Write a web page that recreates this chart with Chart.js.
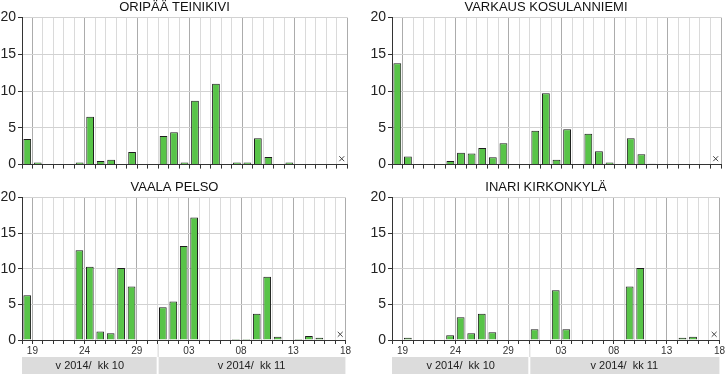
<!DOCTYPE html>
<html>
<head>
<meta charset="utf-8">
<script src="https://cdn.jsdelivr.net/npm/chart.js@4.4.1/dist/chart.umd.min.js"></script>
<style>
  html, body { margin: 0; padding: 0; background: #fff; }
  #wrap { position: relative; width: 726px; height: 375px; overflow: hidden; }
  .panel { position: absolute; }
</style>
</head>
<body>
<div id="wrap">
  <div class="panel" style="left:0;top:0"><canvas id="c1" width="352" height="175"></canvas></div>
  <div class="panel" style="left:370px;top:0"><canvas id="c2" width="356" height="175"></canvas></div>
  <div class="panel" style="left:0;top:180px"><canvas id="c3" width="352" height="195"></canvas></div>
  <div class="panel" style="left:370px;top:180px"><canvas id="c4" width="356" height="195"></canvas></div>
</div>
<script>
// days 19.10.2014 - 18.11.2014, one slot per day
const days = ['19','20','21','22','23','24','25','26','27','28','29','30','31',
              '01','02','03','04','05','06','07','08','09','10','11','12','13','14','15','16','17','18'];
const months = ['v 2014/  kk 10', 'v 2014/  kk 11'];
const monthDays = [13, 18];
const missingDays = ['18'];   // shown with an x

const oripaa  = [3.5,0.3,null,null,null,0.3,6.5,0.5,0.65,null,1.7,null,null,3.9,4.4,0.3,8.7,null,11.0,null,0.3,0.3,3.6,1.05,null,0.3,null,null,null,null,null];
const varkaus = [13.8,1.1,null,null,null,0.5,1.6,1.5,2.25,1.0,2.9,null,null,4.6,9.7,0.65,4.8,null,4.2,1.8,0.3,null,3.6,1.4,0.1,null,null,null,null,null,null];
const vaala   = [6.3,null,null,null,null,12.6,10.3,1.2,0.95,10.1,7.5,null,null,4.6,5.4,13.2,17.2,null,null,null,0.15,0.15,3.7,8.9,0.45,null,0.15,0.55,0.3,null,null];
const inari   = [null,0.3,null,null,null,0.65,3.2,0.95,3.7,1.1,null,null,null,1.5,null,7.0,1.5,null,null,null,null,null,7.5,10.1,null,null,null,0.3,0.45,null,null];

const FONT = "'Liberation Sans', Arial, sans-serif";
const isLabelTick = v => v % 5 === 1;

// grey month boxes under the day axis
const monthBoxes = {
    id: 'monthBoxes',
    afterDraw(chart, args, opts) {
        if (!opts.show) return;
        const ctx = chart.ctx, x = chart.scales.x;
        const top = chart.chartArea.bottom + 17, h = 17;
        let start = 0;
        ctx.save();
        months.forEach((m, i) => {
            const x0 = x.getPixelForValue(start);
            const x1 = x.getPixelForValue(start + monthDays[i]);
            ctx.fillStyle = '#dcdcdc';
            ctx.fillRect(x0 + (i ? 1 : 0), top, x1 - x0 - 1, h);
            if (i) {
                ctx.strokeStyle = '#d4d4d4';
                ctx.beginPath();
                ctx.moveTo(x0 + 0.5, chart.chartArea.bottom + 4);
                ctx.lineTo(x0 + 0.5, top);
                ctx.stroke();
            }
            ctx.fillStyle = '#222';
            ctx.font = '11px ' + FONT;
            ctx.textAlign = 'center';
            ctx.textBaseline = 'middle';
            ctx.fillText(m, (x0 + x1) / 2, top + h / 2 + 0.5);
            start += monthDays[i];
        });
        ctx.restore();
    }
};

function makeChart(id, title, values, bottomRow, padRight) {
    const bars = values.map((v, i) => ({ x: i + 0.5, y: v }));
    const miss = missingDays.map(d => ({ x: days.indexOf(d) + 0.5, y: 0.8 }));
    return new Chart(document.getElementById(id), {
        type: 'bar',
        data: {
            datasets: [{
                data: bars,
                backgroundColor: '#58c448',
                borderColor: '#1e1e1e',
                borderWidth: 1,
                barPercentage: 0.82,
                categoryPercentage: 0.9
            }, {
                type: 'line',
                data: miss,
                showLine: false,
                pointStyle: 'crossRot',
                pointRadius: 3.5,
                borderColor: '#444',
                borderWidth: 1
            }]
        },
        options: {
            responsive: false,
            animation: false,
            layout: { padding: { top: 0, right: padRight, bottom: 0, left: 0 } },
            plugins: {
                legend: { display: false },
                tooltip: { enabled: false },
                title: {
                    display: true,
                    text: title,
                    color: '#111',
                    font: { family: FONT, size: 13, weight: 'normal' },
                    padding: { top: 0, bottom: 2 }
                },
                monthBoxes: { show: bottomRow }
            },
            scales: {
                x: {
                    type: 'linear',
                    offset: false,
                    min: 0,
                    max: days.length,
                    afterFit: s => { s.height = bottomRow ? 35 : 9; },
                    ticks: {
                        stepSize: 1,
                        autoSkip: false,
                        maxRotation: 0,
                        padding: 1,
                        color: '#333',
                        font: { family: FONT, size: 10 },
                        callback: v => (bottomRow && isLabelTick(v)) ? days[v - 1] : ''
                    },
                    grid: {
                        offset: false,
                        color: c => (c.tick && isLabelTick(c.tick.value)) ? '#acacac' : '#dadada',
                        tickColor: '#333',
                        tickLength: 4
                    },
                    border: { color: '#333' }
                },
                y: {
                    min: 0,
                    max: 20,
                    afterFit: s => { s.width = 22; },
                    ticks: {
                        stepSize: 2.5,
                        padding: 2,
                        color: '#222',
                        font: { family: FONT, size: 14 },
                        callback: v => v % 5 === 0 ? v : ''
                    },
                    grid: {
                        color: c => (!c.tick || c.tick.value % 5 === 0) ? '#d2d2d2' : 'rgba(0,0,0,0)',
                        tickColor: '#333',
                        tickLength: 4
                    },
                    border: { color: '#333' }
                }
            }
        },
        plugins: [monthBoxes]
    });
}

makeChart('c1', 'ORIPÄÄ TEINIKIVI', oripaa, false, 3);
makeChart('c2', 'VARKAUS KOSULANNIEMI', varkaus, false, 4);
makeChart('c3', 'VAALA PELSO', vaala, true, 3);
makeChart('c4', 'INARI KIRKONKYLÄ', inari, true, 4);
</script>
</body>
</html>
